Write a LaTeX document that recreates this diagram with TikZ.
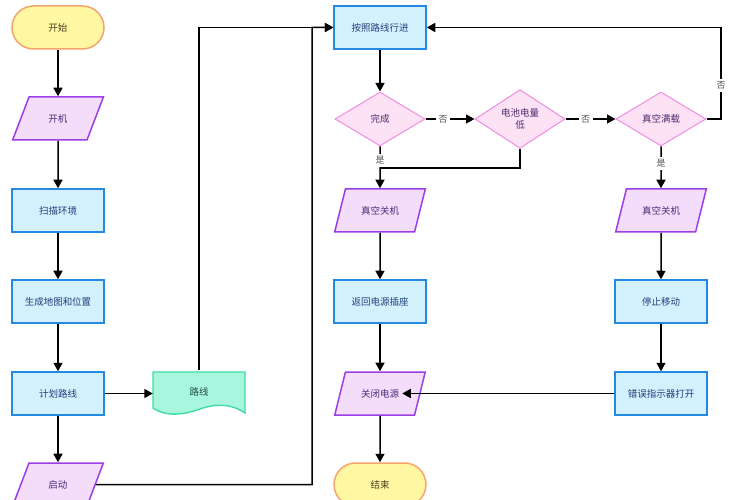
\documentclass[tikz,border=0pt]{standalone}
\usepackage{fontspec}
\setmainfont{Noto Sans CJK SC}
\usetikzlibrary{shapes.geometric,arrows.meta}
\definecolor{termfill}{HTML}{FFF7A1}
\definecolor{termdraw}{HTML}{F5A46C}
\definecolor{termtext}{HTML}{4A4020}
\definecolor{rectfill}{HTML}{D3F1FD}
\definecolor{rectdraw}{HTML}{2589E4}
\definecolor{recttext}{HTML}{1F3F7A}
\definecolor{iofill}{HTML}{F3DDFB}
\definecolor{iodraw}{HTML}{9A3FE6}
\definecolor{iotext}{HTML}{4E2A78}
\definecolor{decfill}{HTML}{FDE2F6}
\definecolor{decdraw}{HTML}{F08CE2}
\definecolor{dectext}{HTML}{4E2A6A}
\definecolor{docfill}{HTML}{A9F6DF}
\definecolor{docdraw}{HTML}{3DDCA8}
\definecolor{doctext}{HTML}{1E4A3E}
\definecolor{labtext}{HTML}{555555}
\begin{document}
\begin{tikzpicture}[x=1pt,y=-1pt,
 font=\fontsize{9.5}{12}\selectfont,
 base/.style={line width=1.5pt, inner sep=2pt, align=center},
 term/.style={base, draw=termdraw, fill=termfill, text=termtext, minimum width=92pt, minimum height=43pt, rounded corners=21.5pt},
 proc/.style={base, draw=rectdraw, fill=rectfill, text=recttext, minimum width=92pt, minimum height=43pt},
 io/.style={base, trapezium, trapezium left angle=63, trapezium right angle=117, trapezium stretches=true, draw=iodraw, fill=iofill, text=iotext, minimum width=91pt, minimum height=43pt},
 dec/.style={base, diamond, line width=1pt, draw=decdraw, fill=decfill, text=dectext, minimum width=90pt, minimum height=54pt, inner sep=0pt},
 arr/.style={line width=1.5pt, -{Triangle[length=8.5pt,width=9pt]}},
 ln/.style={line width=1.5pt},
 lab/.style={fill=white, text=labtext, inner sep=2.5pt, font=\fontsize{9}{10}\selectfont}
]
\useasboundingbox (0,0) rectangle (732,500);
\clip (0,0) rectangle (732,500);
\fill[white] (0,0) rectangle (732,500);

% document shape
\draw[line width=1.4pt, draw=docdraw, fill=docfill]
  (153,372) -- (245,372) -- (245,413)
  .. controls (232,404) and (217,403) .. (200,409)
  .. controls (183,415) and (166,417) .. (153,408) -- cycle;

% left column
\node[term] (start) at (58,27.5) {开始};
\node[io] (on) at (58,118.5) {开机};
\node[proc] (scan) at (58,210.5) {扫描环境};
\node[proc] (map) at (58,301.5) {生成地图和位置};
\node[proc] (plan) at (58,393.5) {计划路线};
\node[io] (go) at (58,484.5) {启动};
\node[minimum width=92pt, minimum height=43pt, text=doctext, inner sep=0pt] (route) at (199,392) {路线};

% middle / right
\node[proc] (follow) at (380,27.5) {按照路线行进};
\node[dec] (done) at (380,119) {完成};
\node[dec] (bat) at (520,119) {电池电量\\低};
\node[dec] (full) at (661,119) {真空满载};
\node[io] (vac1) at (380,210.5) {真空关机};
\node[io] (vac2) at (661,210.5) {真空关机};
\node[proc] (back) at (380,301.5) {返回电源插座};
\node[proc] (stop) at (661,301.5) {停止移动};
\node[io] (off) at (380,393.5) {关闭电源};
\node[proc] (err) at (661,393.5) {错误指示器打开};
\node[term] (end) at (380,484.5) {结束};

% connectors left column
\draw[arr] (start) -- (on);
\draw[arr] (on) -- (scan);
\draw[arr] (scan) -- (map);
\draw[arr] (map) -- (plan);
\draw[arr] (plan) -- (go);
\draw[arr] (plan.east) -- (plan.east -| route.west);
\draw[arr] (route.north) |- (follow.west);
\draw[arr] (go.east) -- (312,484.5) |- (follow.west);

% decisions
\draw[arr] (follow) -- (done);
\draw[arr] (done.east) -- node[lab, pos=0.36] {否} (bat.west);
\draw[arr] (bat.east) -- node[lab, pos=0.4] {否} (full.west);
\draw[arr] (full.east) -- (721,119) -- node[lab, pos=0.37] {否} (721,27.5) -- (follow.east);
\draw[arr] (done.south) -- node[lab, pos=0.33] {是} (vac1.north);
\draw[ln] (bat.south) |- (380,168);
\draw[arr] (full.south) -- node[lab, pos=0.4] {是} (vac2.north);

\draw[arr] (vac1) -- (back);
\draw[arr] (back) -- (off);
\draw[arr] (off) -- (end);
\draw[arr] (vac2) -- (stop);
\draw[arr] (stop) -- (err);
\draw[arr] (err.west) -- (err.west -| off.north east);
\end{tikzpicture}
\end{document}
